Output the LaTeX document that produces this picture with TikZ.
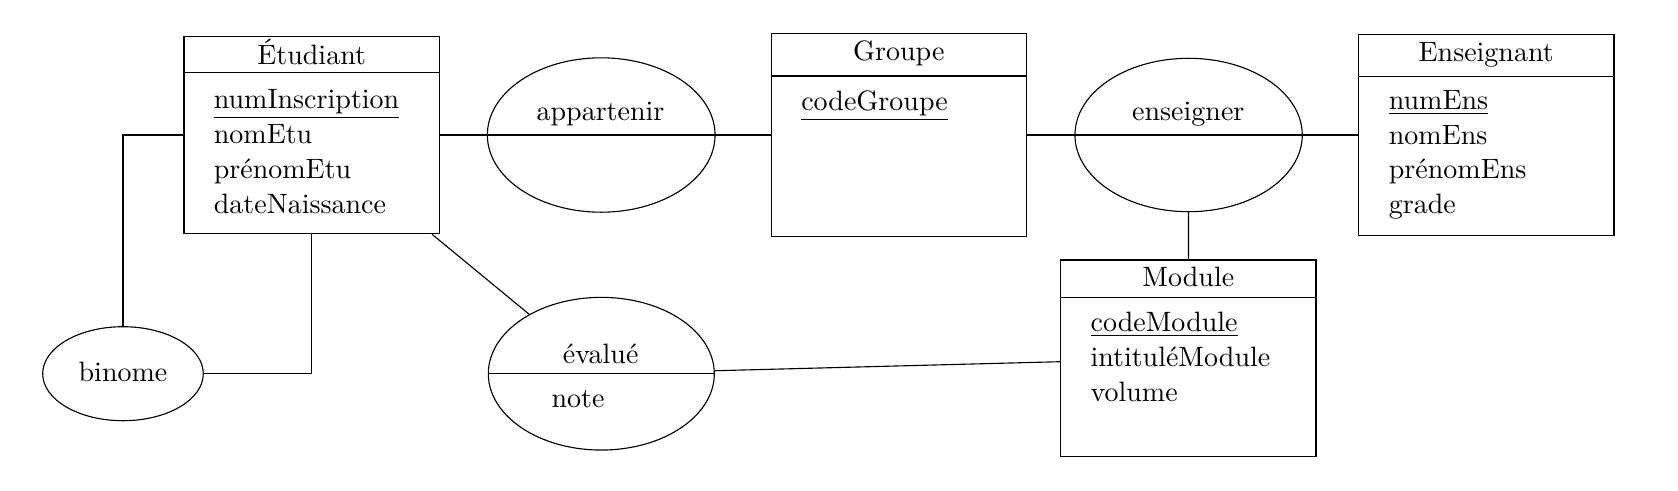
\documentclass[tikz,border=0pt]{standalone}
\usetikzlibrary{shapes.geometric}
\begin{document}
\begin{tikzpicture}[x=0.357143pt,y=-0.357143pt,
  entity/.style={draw,rectangle,inner sep=0pt},
  relation/.style={draw,ellipse,inner sep=0pt},
  lbl/.style={inner sep=0pt,anchor=base},
  attr/.style={inner sep=0pt,anchor=base west},
  link/.style={draw}]
\useasboundingbox (0,0) rectangle (1678,490);
% entities
\node[entity,minimum width=91.18pt,minimum height=70.57pt] (etu) at (311.65,135) {};
\node[entity,minimum width=91.07pt,minimum height=72.64pt] (grp) at (898.8,135) {};
\node[entity,minimum width=91.32pt,minimum height=71.89pt] (ensg) at (1486.15,135) {};
\node[entity,minimum width=91.18pt,minimum height=70.25pt] (mod) at (1188.35,358.35) {};
\draw (184,72.7) -- (439.3,72.7);
\draw (771.3,76) -- (1026.3,76);
\draw (1358.3,76.7) -- (1614,76.7);
\draw (1060.7,297.3) -- (1316,297.3);
% relations
\node[relation,minimum width=81.32pt,minimum height=55.14pt] (app) at (601.2,135) {};
\node[relation,minimum width=81.18pt,minimum height=54.79pt] (ens) at (1188.6,135) {};
\node[relation,minimum width=80.71pt,minimum height=54.54pt] (eval) at (601.3,373.7) {};
\node[relation,minimum width=57.36pt,minimum height=33.57pt] (bin) at (123,373.7) {};
\draw (app.west) -- (app.east);
\draw (ens.west) -- (ens.east);
\draw (eval.west) -- (eval.east);
% texts
\node[lbl] (tetu) at (311.65,64.3) {Étudiant};
\node[attr] (a1) at (213.3,108.3) {\underline{numInscription}};
\node[attr] (a2) at (213.3,143.3) {nomEtu};
\node[attr] (a3) at (213.3,178.3) {prénomEtu};
\node[attr] (a4) at (213.3,213.3) {dateNaissance};
\node[lbl] (tgrp) at (898.8,60.5) {Groupe};
\node[attr] (g1) at (800.7,110) {\underline{codeGroupe}};
\node[lbl] (tens) at (1486.15,61.7) {Enseignant};
\node[attr] (e1) at (1388.3,109.5) {\underline{numEns}};
\node[attr] (e2) at (1388.3,144) {nomEns};
\node[attr] (e3) at (1388.3,178.7) {prénomEns};
\node[attr] (e4) at (1388.3,213.3) {grade};
\node[lbl] (tmod) at (1188.35,286.7) {Module};
\node[attr] (m1) at (1090,331) {\underline{codeModule}};
\node[attr] (m2) at (1090,366.3) {intituléModule};
\node[attr] (m3) at (1090,401.5) {volume};
\node[lbl] (tapp) at (600.5,120) {appartenir};
\node[lbl] (tensg) at (1188.3,120) {enseigner};
\node[lbl] (teval) at (600.7,363.3) {évalué};
\node[attr] (tnote) at (551,407.7) {note};
\node[lbl] (tbin) at (123,381.7) {binome};
% connectors
\path[link] (etu) -- (app);
\path[link] (app) -- (grp);
\path[link] (grp) -- (ens);
\path[link] (ens) -- (ensg);
\path[link] (ens) -- (mod);
\path[link] (etu) -- (eval);
\path[link] (eval) -- (mod);
\path[link] (etu) -| (bin);
\path[link] (bin) -| (etu);
\end{tikzpicture}
\end{document}
